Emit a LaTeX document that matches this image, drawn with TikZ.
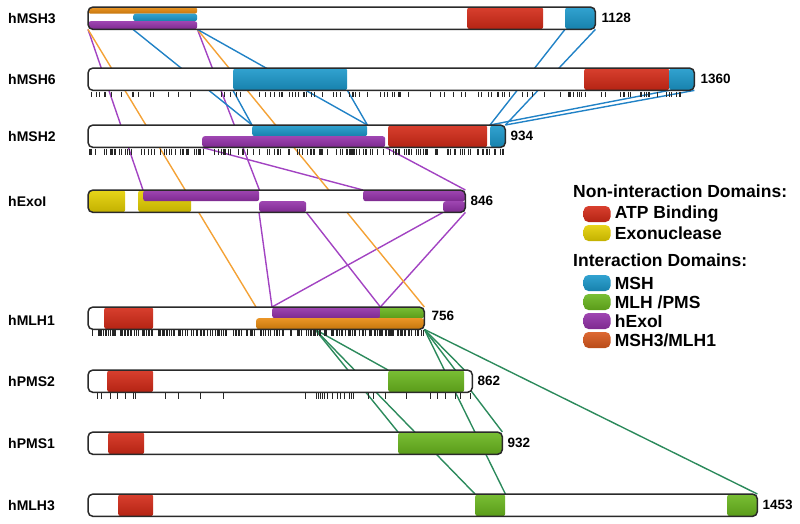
\documentclass[tikz,border=0pt]{standalone}
\usepackage{fontspec}
\setmainfont{Liberation Sans}
\usetikzlibrary{positioning}
\pgfdeclarelayer{links}
\pgfsetlayers{links,main}
\definecolor{atpred}{HTML}{D42A17}
\definecolor{exoyel}{HTML}{E5D000}
\definecolor{mshblu}{HTML}{1B98CB}
\definecolor{mlhgrn}{HTML}{6AB71E}
\definecolor{exopur}{HTML}{9431A9}
\definecolor{mloran}{HTML}{E88A0E}
\definecolor{legora}{HTML}{D9581C}
\definecolor{lnkblu}{HTML}{2182C6}
\definecolor{lnkpur}{HTML}{A243C2}
\definecolor{lnkora}{HTML}{F4A236}
\definecolor{lnkgrn}{HTML}{2C8A5C}
\definecolor{rimc}{HTML}{2A2A2A}
\tikzset{
  bar/.style={anchor=north west, inner sep=0pt, fill=white, rounded corners=5pt, minimum height=22pt},
  rim/.style={draw=rimc, line width=1.5pt, rounded corners=5pt},
  dom/.style={anchor=north west, inner sep=0pt, rounded corners=2.5pt, top color=#1!90!white, middle color=#1, bottom color=#1!85!black},
  lbl/.style={anchor=west, inner sep=0pt, font=\bfseries\fontsize{14}{16}\selectfont},
  len/.style={inner sep=0pt, font=\bfseries\fontsize{13.5}{16}\selectfont},
  lhead/.style={anchor=west, inner sep=0pt, font=\bfseries\fontsize{17.5}{20}\selectfont},
  litem/.style={inner sep=0pt, font=\bfseries\fontsize{17.5}{20}\selectfont},
  swatch/.style={dom=#1, anchor=center, rounded corners=5pt, minimum width=27pt, minimum height=16pt},
  lnk/.style={draw=#1, line width=1.4pt},
  tick/.style={draw=black!85, line width=0.7pt},
}
\begin{document}
\begin{tikzpicture}[x=1pt, y=-1pt]
\useasboundingbox (0,0) rectangle (800,523);
% protein bars
\node[bar, minimum width=507pt] (msh3) at (88,7) {};
\node[bar, minimum width=606pt] (msh6) at (88,68) {};
\node[bar, minimum width=417pt] (msh2) at (88,125) {};
\node[bar, minimum width=377pt] (exo1) at (88,190) {};
\node[bar, minimum width=336pt] (mlh1) at (88,307) {};
\node[bar, minimum width=384pt] (pms2) at (88,370) {};
\node[bar, minimum width=414pt] (pms1) at (88,432) {};
\node[bar, minimum width=669pt] (mlh3) at (88,494) {};
% domains
\begin{scope}
\clip[rounded corners=5pt] (msh3.north west) rectangle (msh3.south east);
\node[dom=mloran, minimum width=109pt, minimum height=6.5pt] (m3o) at (88,7) {};
\node[dom=mshblu, minimum width=64pt, minimum height=7.5pt] (m3b) at (133,13.5) {};
\node[dom=exopur, minimum width=109pt, minimum height=8pt] (m3x) at (88,21) {};
\node[dom=atpred, minimum width=76pt, minimum height=22pt] (m3a) at (467,7) {};
\node[dom=mshblu, minimum width=30pt, minimum height=22pt] (m3c) at (565,7) {};
\end{scope}
\begin{scope}
\clip[rounded corners=5pt] (msh6.north west) rectangle (msh6.south east);
\node[dom=mshblu, minimum width=114pt, minimum height=22pt] (m6b) at (233,68) {};
\node[dom=atpred, minimum width=85pt, minimum height=22pt] (m6a) at (584,68) {};
\node[dom=mshblu, minimum width=25pt, minimum height=22pt] (m6c) at (669,68) {};
\end{scope}
\begin{scope}
\clip[rounded corners=5pt] (msh2.north west) rectangle (msh2.south east);
\node[dom=mshblu, minimum width=115pt, minimum height=11pt] (m2b) at (252,125) {};
\node[dom=exopur, minimum width=183pt, minimum height=11pt] (m2x) at (202,136) {};
\node[dom=atpred, minimum width=99pt, minimum height=22pt] (m2a) at (388,125) {};
\node[dom=mshblu, minimum width=15pt, minimum height=22pt] (m2c) at (490,125) {};
\end{scope}
\begin{scope}
\clip[rounded corners=5pt] (exo1.north west) rectangle (exo1.south east);
\node[dom=exoyel, minimum width=37pt, minimum height=22pt] (e1y) at (88,190) {};
\node[dom=exoyel, minimum width=53pt, minimum height=22pt] (e2y) at (138,190) {};
\node[dom=exopur, minimum width=116pt, minimum height=11pt] (e1x) at (143,190) {};
\node[dom=exopur, minimum width=47pt, minimum height=11pt] (e2x) at (259,201) {};
\node[dom=exopur, minimum width=102pt, minimum height=11pt] (e3x) at (363,190) {};
\node[dom=exopur, minimum width=22pt, minimum height=11pt] (e4x) at (443,201) {};
\end{scope}
\begin{scope}
\clip[rounded corners=5pt] (mlh1.north west) rectangle (mlh1.south east);
\node[dom=atpred, minimum width=49pt, minimum height=22pt] (l1a) at (104,307) {};
\node[dom=mlhgrn, minimum width=109pt, minimum height=11pt] (l1g) at (315,307) {};
\node[dom=exopur, minimum width=108pt, minimum height=11pt] (l1x) at (272,307) {};
\node[dom=mloran, minimum width=168pt, minimum height=11pt] (l1o) at (256,318) {};
\end{scope}
\begin{scope}
\clip[rounded corners=5pt] (pms2.north west) rectangle (pms2.south east);
\node[dom=atpred, minimum width=46pt, minimum height=22pt] (p2a) at (107,370) {};
\node[dom=mlhgrn, minimum width=76pt, minimum height=22pt] (p2g) at (388,370) {};
\end{scope}
\begin{scope}
\clip[rounded corners=5pt] (pms1.north west) rectangle (pms1.south east);
\node[dom=atpred, minimum width=36pt, minimum height=22pt] (p1a) at (108,432) {};
\node[dom=mlhgrn, minimum width=104pt, minimum height=22pt] (p1g) at (398,432) {};
\end{scope}
\begin{scope}
\clip[rounded corners=5pt] (mlh3.north west) rectangle (mlh3.south east);
\node[dom=atpred, minimum width=35pt, minimum height=22pt] (l3a) at (118,494) {};
\node[dom=mlhgrn, minimum width=30pt, minimum height=22pt] (l3g) at (475,494) {};
\node[dom=mlhgrn, minimum width=30pt, minimum height=22pt] (l3h) at (727,494) {};
\end{scope}
\foreach \p in {msh3,msh6,msh2,exo1,mlh1,pms2,pms1,mlh3}
  \draw[rim] (\p.north west) rectangle (\p.south east);
% names and lengths
\node[lbl] (t-msh3) at ([xshift=-80pt]msh3.west) {hMSH3};
\node[lbl] (t-msh6) at ([xshift=-80pt]msh6.west) {hMSH6};
\node[lbl] (t-msh2) at ([xshift=-80pt]msh2.west) {hMSH2};
\node[lbl] (t-exo1) at ([xshift=-80pt]exo1.west) {hExoI};
\node[lbl] (t-mlh1) at ([xshift=-80pt,yshift=-2pt]mlh1.west) {hMLH1};
\node[lbl] (t-pms2) at ([xshift=-80pt]pms2.west) {hPMS2};
\node[lbl] (t-pms1) at ([xshift=-80pt]pms1.west) {hPMS1};
\node[lbl] (t-mlh3) at ([xshift=-80pt]mlh3.west) {hMLH3};
\node[len, right=6pt of msh3] (z-msh3) {1128};
\node[len, right=6pt of msh6] (z-msh6) {1360};
\node[len, right=5pt of msh2] (z-msh2) {934};
\node[len, right=5pt of exo1] (z-exo1) {846};
\node[len, right=7pt of mlh1, yshift=2pt] (z-mlh1) {756};
\node[len, right=5pt of pms2] (z-pms2) {862};
\node[len, right=5pt of pms1] (z-pms1) {932};
\node[len, right=5pt of mlh3] (z-mlh3) {1453};
% variant ticks
\pgfmathsetseed{4711}
\foreach \i in {1,...,110} {\pgfmathsetmacro\tx{90+600*rnd}\draw[tick] (\tx,91.5) -- (\tx,97);}
\foreach \i in {1,...,170} {\pgfmathsetmacro\tx{89+415*rnd}\draw[tick] (\tx,148.5) -- (\tx,154.5);}
\foreach \i in {1,...,230} {\pgfmathsetmacro\tx{89+335*rnd}\draw[tick] (\tx,329.5) -- (\tx,335.5);}
\foreach \tx in {97,101,110,117,125,133,135,165,178,200,223,305,316,318,320,322,324,327,332,337,340,344,349,351,353,368,373,385,406,430,437,445,455,460,470}
  \draw[tick] (\tx,393) -- (\tx,398.5);
% legend
\node[lhead] (nonint) at (573,191) {Non-interaction Domains:};
\node[swatch=atpred] (s-atp) at (597,214) {};
\node[litem, right=4pt of s-atp] (k-atp) {ATP Binding};
\node[swatch=exoyel] (s-exo) at (597,233) {};
\node[litem, right=4pt of s-exo] (k-exo) {Exonuclease};
\node[lhead] (inter) at (573,260) {Interaction Domains:};
\node[swatch=mshblu] (s-msh) at (597,283) {};
\node[litem, right=4pt of s-msh] (k-msh) {MSH};
\node[swatch=mlhgrn] (s-mlh) at (597,302) {};
\node[litem, right=4pt of s-mlh] (k-mlh) {MLH /PMS};
\node[swatch=exopur] (s-exi) at (597,321) {};
\node[litem, right=4pt of s-exi] (k-exi) {hExoI};
\node[swatch=legora] (s-m3l) at (597,340) {};
\node[litem, right=4pt of s-m3l] (k-m3l) {MSH3/MLH1};
% interaction links, behind the bars
\begin{pgfonlayer}{links}
\draw[lnk=lnkpur] (m3x.west |- msh3.south) -- (e1x.west |- exo1.north);
\draw[lnk=lnkpur] (m3x.east |- msh3.south) -- (e1x.east |- exo1.north);
\draw[lnk=lnkpur] (m2x.west |- msh2.south) -- (e3x.west |- exo1.north);
\draw[lnk=lnkpur] (m2x.east |- msh2.south) -- (e3x.east |- exo1.north);
\draw[lnk=lnkpur] (e2x.west |- exo1.south) -- (l1x.west |- mlh1.north);
\draw[lnk=lnkpur] (e2x.east |- exo1.south) -- (l1x.east |- mlh1.north);
\draw[lnk=lnkpur] (e4x.west |- exo1.south) -- (l1x.west |- mlh1.north);
\draw[lnk=lnkpur] (e4x.east |- exo1.south) -- (l1x.east |- mlh1.north);
\draw[lnk=lnkora] (m3o.west |- msh3.south) -- (l1o.west |- mlh1.north);
\draw[lnk=lnkora] (m3o.east |- msh3.south) -- (l1o.east |- mlh1.north);
\draw[lnk=lnkblu] (m3b.west |- msh3.south) -- (m2b.west |- msh2.north);
\draw[lnk=lnkblu] (m3b.east |- msh3.south) -- (m2b.east |- msh2.north);
\draw[lnk=lnkblu] (m6b.west |- msh6.south) -- (m2b.west |- msh2.north);
\draw[lnk=lnkblu] (m6b.east |- msh6.south) -- (m2b.east |- msh2.north);
\draw[lnk=lnkblu] (m3c.west |- msh3.south) -- (m2c.west |- msh2.north);
\draw[lnk=lnkblu] (m3c.east |- msh3.south) -- (m2c.east |- msh2.north);
\draw[lnk=lnkblu] (m6c.west |- msh6.south) -- (m2c.west |- msh2.north);
\draw[lnk=lnkblu] (m6c.east |- msh6.south) -- (m2c.east |- msh2.north);
\draw[lnk=lnkgrn] (l1g.west |- mlh1.south) -- (p2g.west |- pms2.north);
\draw[lnk=lnkgrn] (l1g.east |- mlh1.south) -- (p2g.east |- pms2.north);
\draw[lnk=lnkgrn] (l1g.west |- mlh1.south) -- (p1g.west |- pms1.north);
\draw[lnk=lnkgrn] (l1g.east |- mlh1.south) -- (p1g.east |- pms1.north);
\draw[lnk=lnkgrn] (l1g.west |- mlh1.south) -- (l3g.west |- mlh3.north);
\draw[lnk=lnkgrn] (l1g.east |- mlh1.south) -- (l3g.east |- mlh3.north);
\draw[lnk=lnkgrn] (l1g.east |- mlh1.south) -- (l3h.east |- mlh3.north);
\end{pgfonlayer}
\end{tikzpicture}
\end{document}
